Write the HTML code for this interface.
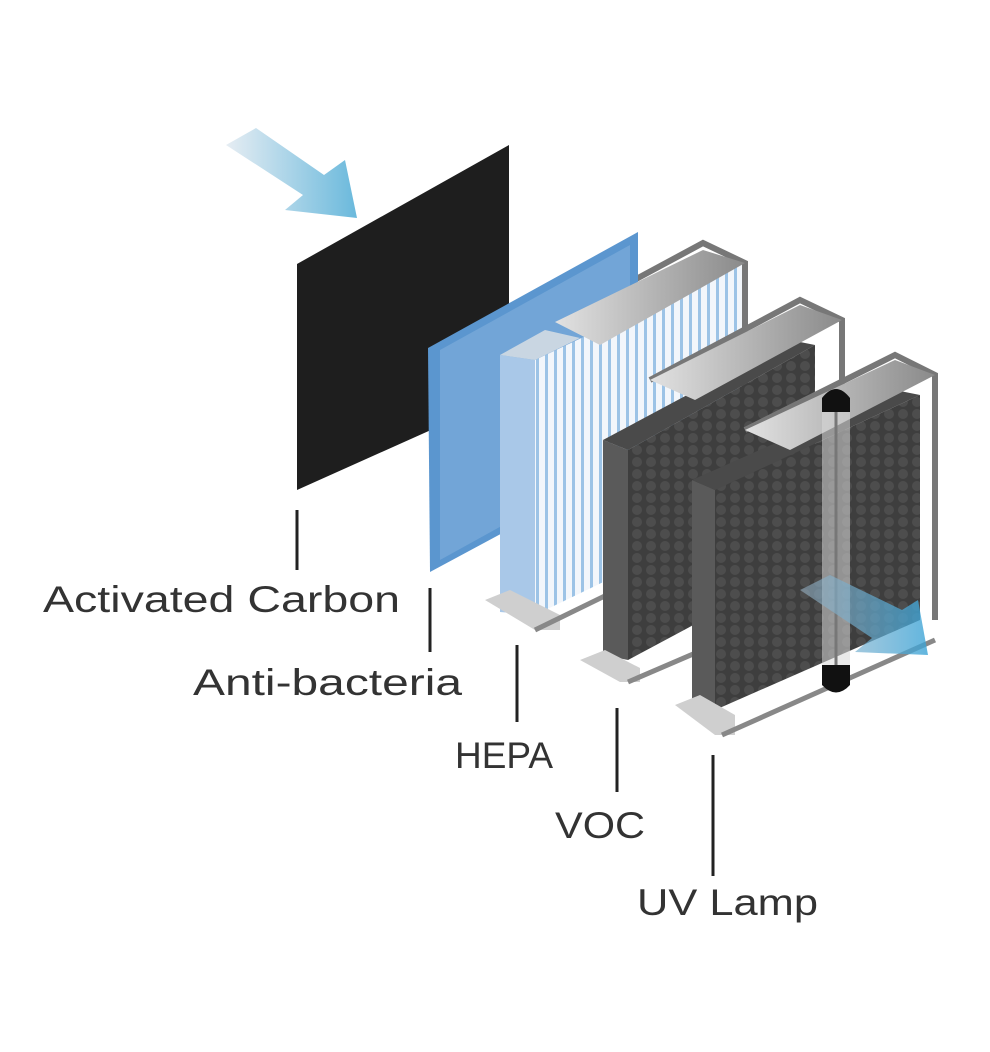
<!DOCTYPE html>
<html><head><meta charset="utf-8"><style>
html,body{margin:0;padding:0;background:#fff}
svg{display:block}
text{font-family:"Liberation Sans",sans-serif;fill:#333;font-size:37px}
</style></head><body>
<svg width="990" height="1052" viewBox="0 0 990 1052" xmlns="http://www.w3.org/2000/svg">
<defs>
<linearGradient id="ag" x1="0" y1="0" x2="1" y2="0"><stop offset="0" stop-color="#e6edf3"/><stop offset="1" stop-color="#6ab9dc"/></linearGradient>
<linearGradient id="ag2" x1="0" y1="0" x2="1" y2="0"><stop offset="0" stop-color="#9cb4c6" stop-opacity="0.7"/><stop offset="1" stop-color="#3aa3d6"/></linearGradient>
<linearGradient id="cap" x1="0" y1="0" x2="1" y2="0"><stop offset="0" stop-color="#e2e2e2"/><stop offset="1" stop-color="#8a8a8a"/></linearGradient>
<pattern id="pl" width="9" height="10" patternUnits="userSpaceOnUse"><rect width="9" height="10" fill="#f2f6fb"/><rect x="5" width="3" height="10" fill="#9cc3e6"/></pattern>
<pattern id="hex" width="14" height="12" patternUnits="userSpaceOnUse"><rect width="14" height="12" fill="#3e3e3e"/><circle cx="7" cy="6" r="5" fill="#4d4d4d"/></pattern>
</defs>
<polygon points="226,145 256,128 324,175 345,160 357,218 285,210 303,195" fill="url(#ag)"/>
<polygon points="297,264 509,145 509,395 297,490" fill="#1e1e1e"/>
<polyline points="560,320 703,243 745,263 745,520" fill="none" stroke="#777" stroke-width="6"/>
<polygon points="428,348 638,232 638,460 430,572" fill="#5b96cf"/>
<polygon points="440,350 630,245 630,455 440,560" fill="#8db8e0" opacity="0.45"/>
<polygon points="535,360 742,262 742,515 535,615" fill="url(#pl)"/>
<polygon points="500,355 535,360 535,615 500,612" fill="#a9c8e8"/>
<polygon points="500,355 545,330 580,338 535,360" fill="#c9d6e2"/>
<polygon points="555,322 703,250 745,263 600,345" fill="url(#cap)"/>
<polygon points="485,600 510,590 560,615 560,630 535,630" fill="#cfcfcf"/>
<polyline points="535,630 740,530" fill="none" stroke="#888" stroke-width="5"/>
<polyline points="650,380 800,300 842,320 842,615" fill="none" stroke="#777" stroke-width="6"/>
<polygon points="628,450 815,345 815,560 628,660" fill="url(#hex)"/>
<polygon points="603,440 628,450 628,660 603,655" fill="#5a5a5a"/>
<polygon points="603,440 790,340 815,345 628,450" fill="#4a4a4a"/>
<polygon points="650,380 800,305 842,320 695,400" fill="url(#cap)"/>
<polygon points="580,660 605,650 640,668 640,682 620,682" fill="#cfcfcf"/>
<polyline points="628,682 842,590" fill="none" stroke="#888" stroke-width="5"/>
<polyline points="745,430 895,355 935,375 935,620" fill="none" stroke="#777" stroke-width="6"/>
<polygon points="715,490 920,395 920,620 715,710" fill="url(#hex)"/>
<polygon points="692,480 715,490 715,710 692,705" fill="#5a5a5a"/>
<polygon points="692,480 895,390 920,395 715,490" fill="#4a4a4a"/>
<polygon points="745,430 895,360 935,375 790,450" fill="url(#cap)"/>
<polygon points="675,705 700,695 735,715 735,735 715,735" fill="#cfcfcf"/>
<polyline points="722,735 935,640" fill="none" stroke="#888" stroke-width="5"/>
<rect x="822" y="410" width="28" height="260" fill="#d8d8d8" opacity="0.55"/>
<line x1="836" y1="410" x2="836" y2="670" stroke="#777" stroke-width="3"/>
<path d="M822,412 L822,398 Q836,380 850,398 L850,412 Z" fill="#111"/>
<path d="M822,665 L850,665 L850,685 Q836,700 822,685 Z" fill="#111"/>
<polygon points="800,590 830,575 902,610 918,600 928,655 855,652 872,638" fill="url(#ag2)" opacity="0.8"/>
<g stroke="#222" stroke-width="3">
<line x1="297" y1="510" x2="297" y2="570"/>
<line x1="430" y1="588" x2="430" y2="652"/>
<line x1="517" y1="645" x2="517" y2="722"/>
<line x1="617" y1="708" x2="617" y2="792"/>
<line x1="713" y1="755" x2="713" y2="876"/>
</g>
<text x="43" y="612" textLength="357" lengthAdjust="spacingAndGlyphs">Activated Carbon</text>
<text x="193" y="695" textLength="269" lengthAdjust="spacingAndGlyphs">Anti-bacteria</text>
<text x="455" y="768" textLength="98" lengthAdjust="spacingAndGlyphs">HEPA</text>
<text x="555" y="838" textLength="90" lengthAdjust="spacingAndGlyphs">VOC</text>
<text x="637" y="915" textLength="181" lengthAdjust="spacingAndGlyphs">UV Lamp</text>
</svg>
</body></html>
